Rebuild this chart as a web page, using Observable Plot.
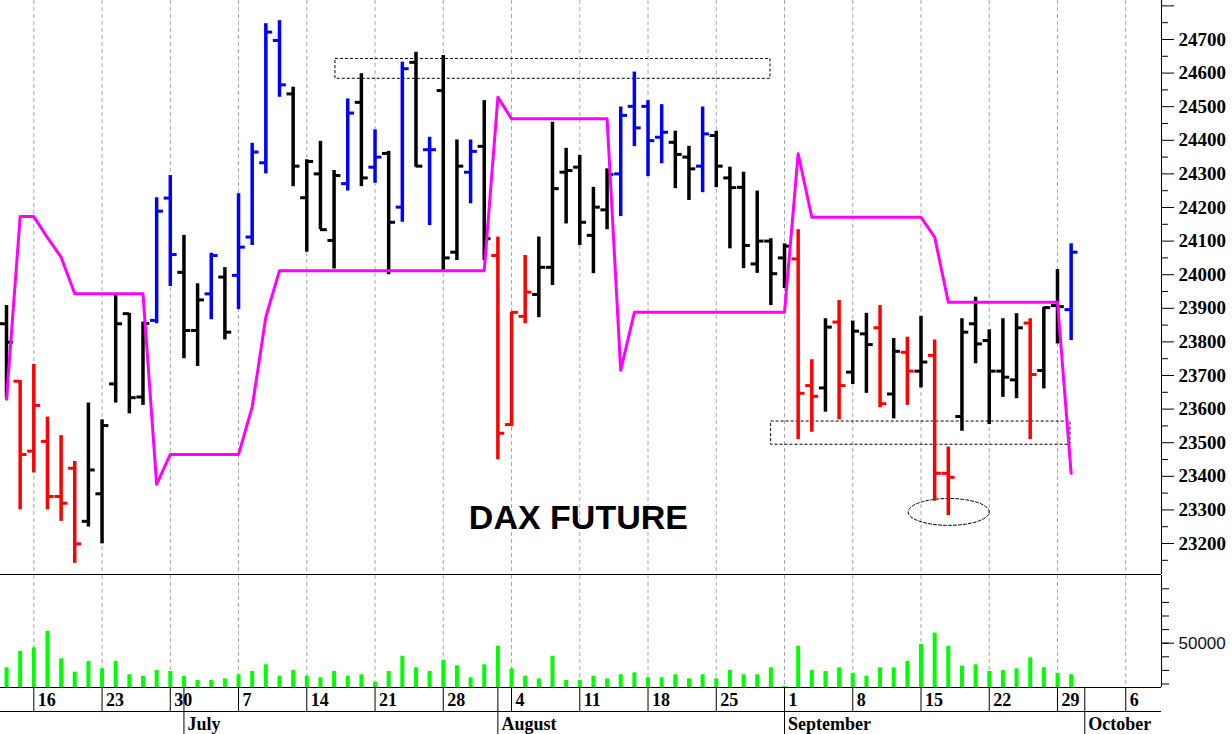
<!DOCTYPE html>
<html><head><meta charset="utf-8">
<script src="https://cdn.jsdelivr.net/npm/d3@7"></script>
<script src="https://cdn.jsdelivr.net/npm/@observablehq/plot@0.6"></script>
<style>
html,body{margin:0;padding:0;background:#fff;overflow:hidden;}
#chart svg{display:block;}
</style></head><body><div id="chart"></div>
<script>
// ---------- DATA ----------
const dates = [
 "2025-06-12","2025-06-13","2025-06-16","2025-06-17","2025-06-18","2025-06-19","2025-06-20","2025-06-23","2025-06-24","2025-06-25","2025-06-26","2025-06-27","2025-06-30",
 "2025-07-01","2025-07-02","2025-07-03","2025-07-04","2025-07-07","2025-07-08","2025-07-09","2025-07-10","2025-07-11","2025-07-14","2025-07-15","2025-07-16","2025-07-17","2025-07-18",
 "2025-07-21","2025-07-22","2025-07-23","2025-07-24","2025-07-25","2025-07-28","2025-07-29","2025-07-30","2025-07-31",
 "2025-08-01","2025-08-04","2025-08-05","2025-08-06","2025-08-07","2025-08-08","2025-08-11","2025-08-12","2025-08-13","2025-08-14","2025-08-15",
 "2025-08-18","2025-08-19","2025-08-20","2025-08-21","2025-08-22","2025-08-25","2025-08-26","2025-08-27","2025-08-28","2025-08-29",
 "2025-09-01","2025-09-02","2025-09-03","2025-09-04","2025-09-05","2025-09-08","2025-09-09","2025-09-10","2025-09-11","2025-09-12",
 "2025-09-15","2025-09-16","2025-09-17","2025-09-18","2025-09-19","2025-09-22","2025-09-23","2025-09-24","2025-09-25","2025-09-26","2025-09-29","2025-09-30"
];
const open = [23854,23683,23475,23504,23340,23424,23266,23348,23675,23884,23636,23864,24228,
 24007,23834,23943,23993,23998,24112,24333,24697,24538,24229,24300,24102,24271,24513,
 24320,24361,24201,24632,24372,24548,24067,24305,24382,
 24057,23554,23876,23941,24022,24305,24320,24117,24193,24300,24501,
 24501,24409,24394,24350,24323,24414,24288,24260,24032,24100,
 24050,24047,23670,23663,23859,23710,23824,23842,23645,23769,
 23713,23760,23409,23578,23854,23804,23713,23687,23856,23715,23908,23896];
const high = [23908,23685,23733,23576,23521,23444,23618,23568,23938,23885,23859,24229,24295,
 24117,23973,24064,24021,24241,24391,24747,24756,24558,24342,24397,24310,24523,24598,
 24431,24367,24632,24662,24409,24652,24401,24401,24518,
 24112,23888,24057,24112,24454,24376,24355,24260,24315,24499,24603,
 24518,24506,24427,24382,24499,24427,24320,24305,24249,24107,
 24092,24134,23747,23869,23923,23862,23885,23908,23810,23814,
 23876,23806,23487,23869,23933,23836,23869,23884,23869,23902,24015,24092];
const low = [23632,23300,23410,23300,23266,23141,23249,23199,23618,23586,23611,23854,23965,
 23750,23727,23866,23806,23896,24087,24300,24528,24262,24067,24134,24017,24249,24262,
 24272,24000,24156,24320,24146,24007,24042,24211,24042,
 23449,23548,23854,23872,23968,24151,24087,24003,24134,24173,24381,
 24292,24330,24256,24221,24244,24259,24077,24018,24004,23908,
 23959,23509,23531,23591,23568,23673,23647,23604,23571,23611,
 23663,23326,23283,23534,23735,23554,23635,23631,23509,23660,23794,23804];
const close = [23799,23465,23611,23340,23320,23199,23419,23551,23854,23634,23855,24189,24060,
 23834,23925,24057,23829,24082,24365,24722,24565,24323,24337,24134,24295,24481,24288,
 24350,24156,24613,24323,24372,24050,24323,24367,24107,
 23528,23888,23948,24022,24256,24310,24156,24201,24298,24474,24437,
 24399,24424,24358,24315,24419,24323,24259,24087,24100,24003,
 24085,23647,23638,23844,23670,23832,23792,23616,23772,23713,
 23740,23409,23397,23829,23794,23713,23695,23842,23703,23902,23905,24067];
// bar colour code: k = black, r = red, b = blue
const barCode = ["k","r","r","r","r","r","k","k","k","k","k","b","b",
 "k","k","b","k","b","b","b","b","k","k","k","k","b","k",
 "b","k","b","k","b","k","k","b","k",
 "r","r","r","k","k","k","k","k","k","b","b",
 "b","b","k","k","b","k","k","k","k","k",
 "k","r","r","k","r","k","k","r","k","r",
 "k","r","r","k","k","k","k","k","r","k","k","b"];
const stopLine = [23629,24173,24173,24110,24052,23943,23943,23943,23943,23943,23943,
 23376,23465,23465,23465,23465,23465,23465,23606,23874,
 24012,24012,24012,24012,24012,24012,24012,24012,24012,24012,24012,24012,24012,24012,24012,24012,
 24528,24464,24464,24464,24464,24464,24464,24464,24464,
 23715,23888,23888,23888,23888,23888,23888,23888,23888,23888,23888,23888,23888,
 24360,24171,24171,24171,24171,24171,24171,24171,24171,24171,
 24112,23918,23918,23918,23918,23918,23918,23918,23918,23918,23409];
const volume = [31900,43900,46600,58600,38500,28700,36500,31200,36500,26800,
 25700,29900,29200,25700,22600,22600,23800,26800,29200,34100,
 25700,29900,25700,24600,29200,25700,26800,21300,29200,40400,
 31900,29200,37300,33400,24600,34100,47800,31200,25700,23800,
 40400,22600,22600,25700,23800,26800,28200,24600,24600,26800,
 23800,26800,23800,29900,26800,26800,31900,18200,47800,29900,
 29200,31900,27900,25700,31900,31900,36500,49000,57400,47800,
 33100,34100,29200,29900,31200,39300,31900,27900,26800];

const dayTickDates = ["2025-06-16","2025-06-23","2025-06-30","2025-07-07","2025-07-14","2025-07-21","2025-07-28",
 "2025-08-04","2025-08-11","2025-08-18","2025-08-25","2025-09-01","2025-09-08","2025-09-15","2025-09-22","2025-09-29","2025-10-06"];
const dayTickLabels = ["16","23","30","7","14","21","28","4","11","18","25","1","8","15","22","29","6"];
const monthStartDates = ["2025-07-01","2025-08-01","2025-09-01","2025-10-01"];
const monthLabels = ["July","August","September","October"];

const priceTicks = [23200,23300,23400,23500,23600,23700,23800,23900,24000,24100,24200,24300,24400,24500,24600,24700,24800];
const priceMinorTicks = [23150,23250,23350,23450,23550,23650,23750,23850,23950,24050,24150,24250,24350,24450,24550,24650,24750];
const volumeTicks = [20000,30000,40000,50000,60000,70000,80000,90000];
const volumeLabelTicks = [50000];

// annotation boxes (trading-day index, price)
const zoneX1 = [24.1, 56.02];
const zoneX2 = [55.97, 77.95];
const zoneLow = [24583, 23494];
const zoneHigh = [24642, 23563];
// dashed ellipse around the September low (centre index, centre price, radii)
const ringCenter = [69.03, 23294];
const ringRadius = [2.97, 40];
const titleText = "DAX FUTURE";
const titlePos = [41.9, 23276];

// ---------- HELPERS ----------
const t0 = new Date(dates[0] + "T00:00:00Z");
function tradingIndex(s) {
  const t = new Date(s + "T00:00:00Z");
  let n = 0;
  for (let d = new Date(t0); d < t; d.setUTCDate(d.getUTCDate() + 1)) {
    const w = d.getUTCDay();
    if (w !== 0 && w !== 6) n++;
  }
  return n;
}
const colorOf = {k: "#000000", r: "#ff0000", b: "#0000ff"};
const bars = dates.map((d, k) => ({
  i: tradingIndex(d), open: open[k], high: high[k], low: low[k], close: close[k],
  color: colorOf[barCode[k]], stop: stopLine[k], vol: volume[k]
}));
const dayTicks = dayTickDates.map((d, k) => ({i: tradingIndex(d), label: dayTickLabels[k]}));
const monthTicks = monthStartDates.map((d, k) => ({i: tradingIndex(d), label: monthLabels[k]}));
const zones = zoneX1.map((x, k) => ({x1: x, x2: zoneX2[k], y1: zoneLow[k], y2: zoneHigh[k]}));
const ring = d3.range(0, 73).map(k => {
  const a = k / 72 * 2 * Math.PI;
  return {x: ringCenter[0] + ringRadius[0] * Math.cos(a), y: ringCenter[1] + ringRadius[1] * Math.sin(a)};
});

// ---------- LAYOUT ----------
const W = 1232, RM = 71;
const xDomain = [-0.44, 84.62];
const priceDomain = [23107.8, 24816];
const volDomain = [17426, 99780];
const gridStyle = {stroke: "#a8a8a8", strokeDasharray: "4,3", strokeWidth: 1};

const pricePlot = Plot.plot({
  width: W, height: 575, marginLeft: 0, marginRight: RM, marginTop: 0, marginBottom: 1,
  x: {domain: xDomain, axis: null},
  y: {domain: priceDomain, axis: null, label: null},
  color: {type: "identity"},
  style: {background: "#fff", overflow: "visible"},
  marks: [
    Plot.ruleX(dayTicks, {x: "i", ...gridStyle}),
    Plot.rect(zones, {x1: "x1", x2: "x2", y1: "y1", y2: "y2", fill: "none", stroke: "#000", strokeDasharray: "3,2", strokeWidth: 1}),
    Plot.line(ring, {x: "x", y: "y", stroke: "#000", strokeDasharray: "3,2", strokeWidth: 1}),
    Plot.ruleX(bars, {x: "i", y1: "low", y2: "high", stroke: "color", strokeWidth: 3.5}),
    Plot.ruleY(bars, {y: "open", x1: d => d.i - 0.45, x2: "i", stroke: "color", strokeWidth: 3}),
    Plot.ruleY(bars, {y: "close", x1: "i", x2: d => d.i + 0.5, stroke: "color", strokeWidth: 3}),
    Plot.line(bars, {x: "i", y: "stop", stroke: "#ff00ff", strokeWidth: 3}),
    Plot.text([titleText], {x: titlePos[0], y: titlePos[1], text: d => d, fontFamily: "Liberation Sans, Arial, sans-serif", fontWeight: "bold", fontSize: 34, fill: "#000"}),
    Plot.ruleY([priceDomain[0]], {stroke: "#000"}),
    Plot.ruleX([xDomain[1]], {stroke: "#000"}),
    Plot.axisY(priceMinorTicks, {anchor: "right", tickSize: 6, tickFormat: () => "", label: null}),
    Plot.axisY(priceTicks, {anchor: "right", tickSize: 12, tickPadding: 5, label: null,
      tickFormat: d => d >= 24800 ? "" : String(d),
      fontFamily: "Liberation Serif, Times New Roman, serif", fontWeight: "bold", fontSize: 19, fill: "#000"})
  ]
});

const volPlot = Plot.plot({
  width: W, height: 113, marginLeft: 0, marginRight: RM, marginTop: 0, marginBottom: 1,
  x: {domain: xDomain, axis: null},
  y: {domain: volDomain, axis: null, label: null},
  style: {background: "#fff", overflow: "visible"},
  marks: [
    Plot.ruleX(dayTicks, {x: "i", ...gridStyle}),
    Plot.ruleX(bars, {x: "i", y1: volDomain[0], y2: "vol", stroke: "#00ff00", strokeWidth: 4}),
    Plot.ruleY([volDomain[0]], {stroke: "#000"}),
    Plot.ruleX([xDomain[1]], {stroke: "#000"}),
    Plot.axisY(volumeTicks, {anchor: "right", tickSize: 7, tickFormat: () => "", label: null}),
    Plot.axisY(volumeLabelTicks, {anchor: "right", tickSize: 12, tickPadding: 5, label: null,
      tickFormat: d => String(d), fontFamily: "Liberation Sans, Arial, sans-serif", fontSize: 17, fill: "#111"})
  ]
});

const datePlot = Plot.plot({
  width: W, height: 46, marginLeft: 0, marginRight: RM, marginTop: 0, marginBottom: 0,
  x: {domain: xDomain, axis: null},
  y: {domain: [0, 2], axis: null, label: null},
  style: {background: "#fff", overflow: "visible"},
  marks: [
    Plot.ruleY([1], {stroke: "#000"}),
    Plot.ruleX(dayTicks, {x: "i", y1: 1, y2: 2, stroke: "#000"}),
    Plot.ruleX(monthTicks, {x: "i", y1: 0, y2: 2, stroke: "#000"}),
    Plot.text(dayTicks, {x: "i", y: 1.5, text: "label", textAnchor: "start", dx: 4,
      fontFamily: "Liberation Serif, Times New Roman, serif", fontWeight: "bold", fontSize: 18, fill: "#000"}),
    Plot.text(monthTicks, {x: "i", y: 0.5, text: "label", textAnchor: "start", dx: 3.5, dy: 1.5,
      fontFamily: "Liberation Serif, Times New Roman, serif", fontWeight: "bold", fontSize: 18, fill: "#000"})
  ]
});

const root = document.getElementById("chart");
root.append(pricePlot, volPlot, datePlot);
</script>
</body></html>
